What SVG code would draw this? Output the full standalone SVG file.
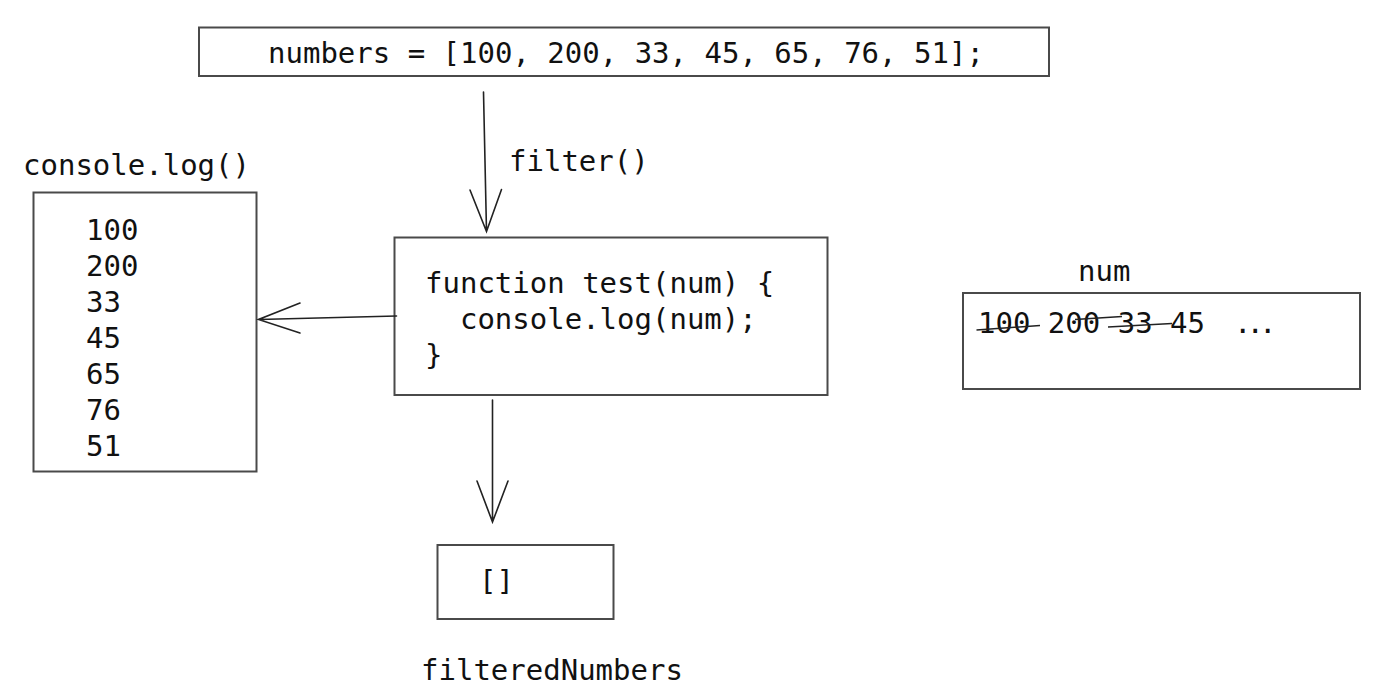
<svg xmlns="http://www.w3.org/2000/svg" width="1392" height="685" viewBox="0 0 1392 685">
<style>
.box{fill:#fff;stroke:#4a4a4a;stroke-width:2}
.t{font-family:"DejaVu Sans Mono","Liberation Mono",monospace;font-size:29px;fill:#111}
.c{fill:none;stroke:#222;stroke-width:1.6;stroke-linecap:round}
.s{fill:none;stroke:#222;stroke-width:1.5}
</style>
<rect width="1392" height="685" fill="#fff"/>
<g id="numbers">
<rect class="box" x="199" y="27.5" width="850" height="48.5"/>
<text class="t" x="268" y="63">numbers = [100, 200, 33, 45, 65, 76, 51];</text>
</g>
<g id="filter-label"><text class="t" x="509" y="171">filter()</text></g>
<g id="console">
<text class="t" x="23" y="175">console.log()</text>
<rect class="box" x="33.5" y="192.5" width="223" height="279"/>
<text class="t" x="86" y="240">100</text>
<text class="t" x="86" y="276">200</text>
<text class="t" x="86" y="312">33</text>
<text class="t" x="86" y="348">45</text>
<text class="t" x="86" y="384">65</text>
<text class="t" x="86" y="420">76</text>
<text class="t" x="86" y="456">51</text>
</g>
<g id="test">
<rect class="box" x="394.5" y="237.5" width="433" height="157.5"/>
<text class="t" x="425" y="293">function test(num) {</text>
<text class="t" x="425" y="329" xml:space="preserve">  console.log(num);</text>
<text class="t" x="425" y="365">}</text>
</g>
<g id="num">
<text class="t" x="1078" y="281">num</text>
<rect class="box" x="963" y="293" width="397" height="96"/>
<text class="t" x="978" y="333" xml:space="preserve">100 200 33 45<tspan x="1234" letter-spacing="-5">...</tspan></text>
<path class="s" d="M976.5 330 L1040 325.5 M1075 319.5 L1122 316.5 M1108 327 L1172 323.5"/>
</g>
<g id="filtered">
<rect class="box" x="437.5" y="545" width="176" height="74"/>
<text class="t" x="479" y="591">[]</text>
<text class="t" x="421" y="680">filteredNumbers</text>
</g>
<g id="connectors">
<path class="c" d="M483.5 92 L486.5 231.5 M470 190 L486.5 231.5 L501.5 189.5"/>
<path class="c" d="M396.5 316 L258.5 319.5 M300 303 L258.5 319.5 L300 333"/>
<path class="c" d="M492.5 400 L492.5 522 M477 481 L492.5 522 L508 481"/>
</g>
</svg>
